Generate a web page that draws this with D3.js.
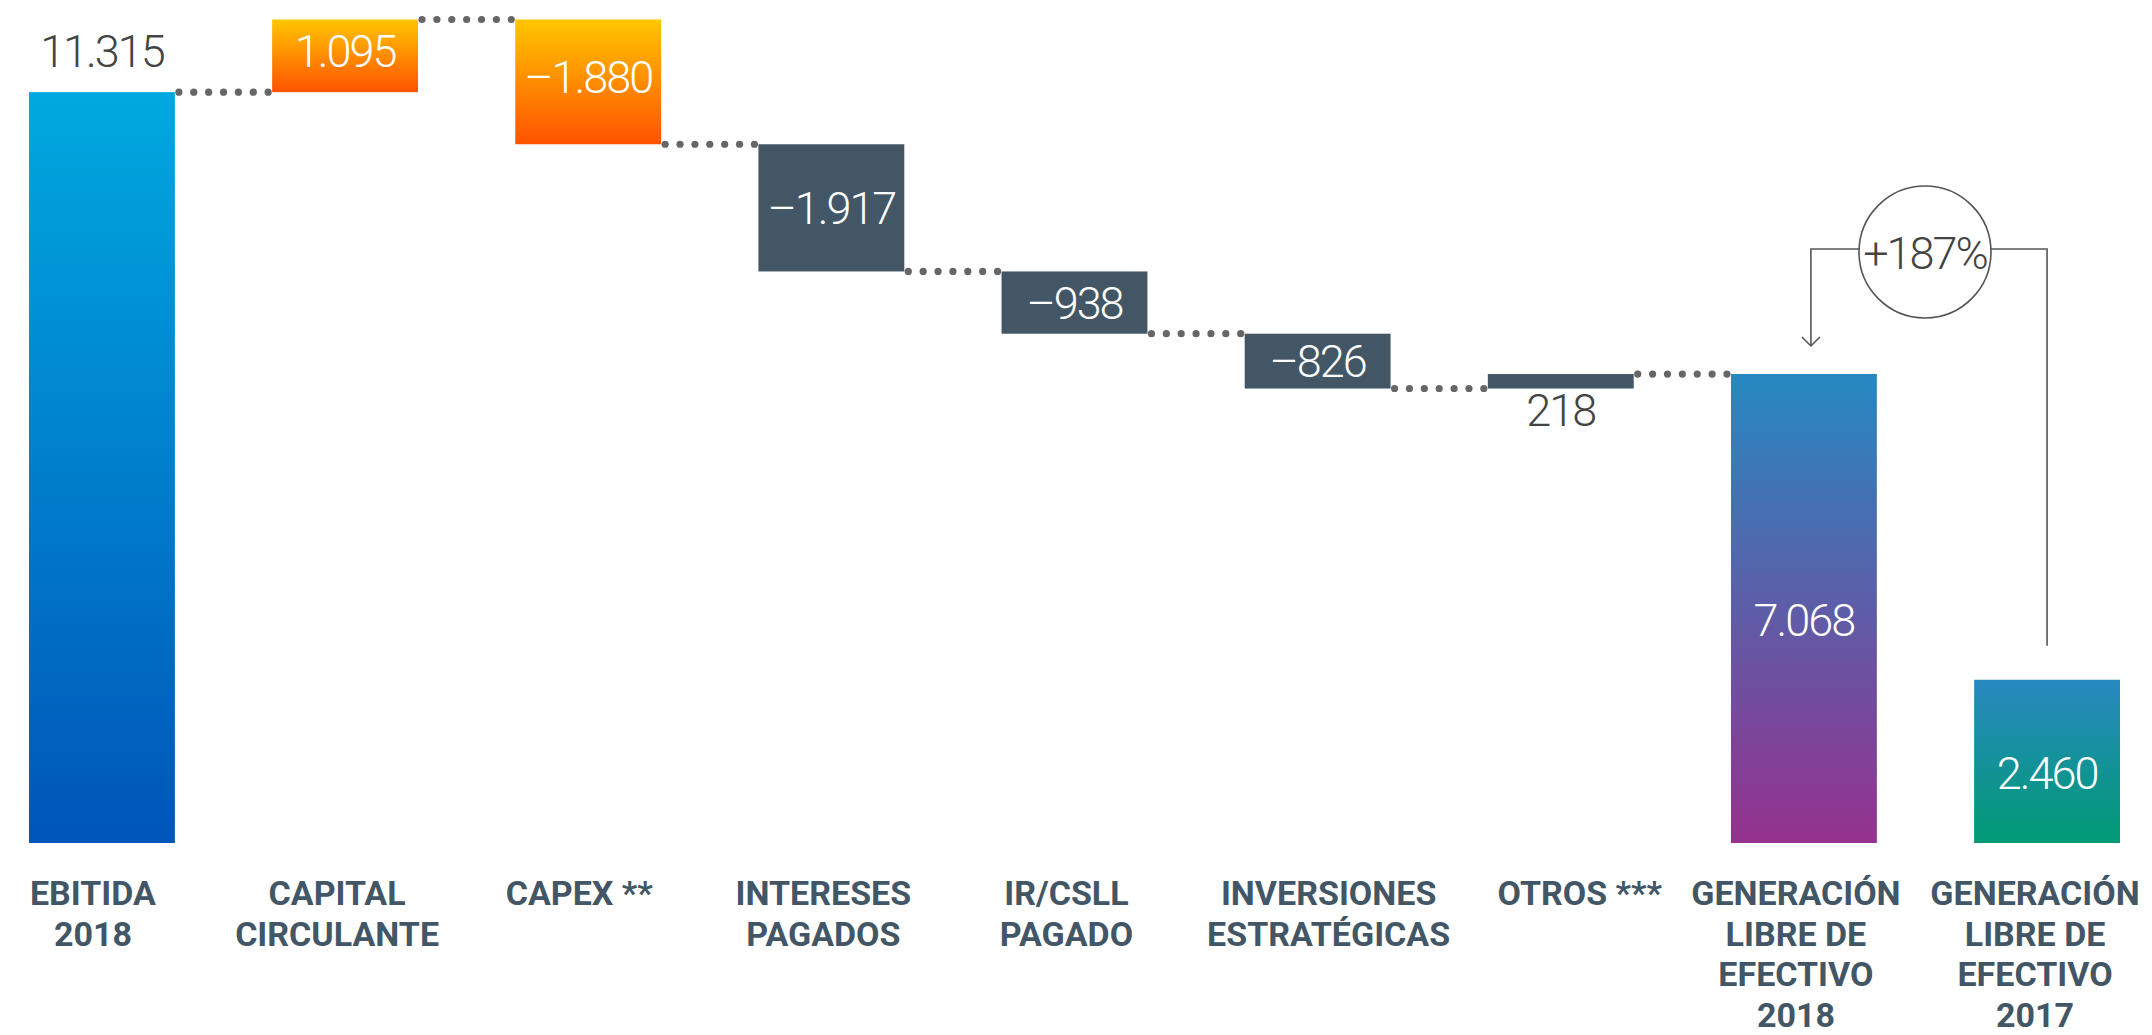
<!DOCTYPE html>
<html>
<head>
<meta charset="utf-8">
<script src="https://cdn.jsdelivr.net/npm/d3@7"></script>
<style>
  body { margin: 0; background: #fff; }
  .cat { font-family: Roboto, "Open Sans", sans-serif; font-weight: 700; font-size: 34px; fill: #435666; }
  .val { font-family: Roboto, "Open Sans", sans-serif; font-weight: 300; font-size: 45px; letter-spacing: -2px; }
</style>
</head>
<body>
<div id="chart"></div>
<script>

// categories (one entry per line of the axis label)
var categories = [
	["EBITIDA", "2018"],
	["CAPITAL", "CIRCULANTE"],
	["CAPEX **"],
	["INTERESES", "PAGADOS"],
	["IR/CSLL", "PAGADO"],
	["INVERSIONES", "ESTRATÉGICAS"],
	["OTROS ***"],
	["GENERACIÓN", "LIBRE DE", "EFECTIVO", "2018"],
	["GENERACIÓN", "LIBRE DE", "EFECTIVO", "2017"]
];

// values (millions), totals and deltas
var values = [11315, 1095, -1880, -1917, -938, -826, 218, 7068, 2460];
var barType = ["total", "delta", "delta", "delta", "delta", "delta", "delta", "total", "total"];
var fillKey = ["ebitda", "orange", "orange", "slate", "slate", "slate", "slate", "gen2018", "gen2017"];
var labelPlace = ["above", "inside", "inside", "inside", "inside", "inside", "below", "inside", "inside"];

// growth 2017 -> 2018
var growthLabel = "+187%";

var width = 2152, height = 1035;
var baseline = 843;

// axis labels are not quite centred under the bars in the original
var labelShift = [-9, -8, -9, -8, -8, 11, 19, -8, -12];

// number format: 11.315 / –1.880
var locale = d3.formatLocale({decimal: ",", thousands: ".", grouping: [3], currency: ["", ""], minus: "\u2013"});
var fmt = locale.format(",d");

// start / end of each bar
var bars = [];
var running = 0;
values.forEach(function(v, i) {
	var start, end;
	if (barType[i] == "total") {
		start = 0; end = v;
		if (i == 0) running = v;
	} else {
		start = running; end = running + v;
		running = end;
	}
	bars.push({i: i, start: start, end: end, value: v});
});

var svg = d3.select("#chart").append("svg")
	.attr("width", width)
	.attr("height", height);

svg.append("rect").attr("width", width).attr("height", height).attr("fill", "#fff");

var xScale = d3.scaleBand()
	.domain(d3.range(categories.length))
	.range([29, 2120])
	.paddingInner(0.4)
	.paddingOuter(0);

var yScale = d3.scaleLinear()
	.domain([0, d3.max(bars, function(d) { return Math.max(d.start, d.end); })])
	.range([baseline, 19.5]);

// gradients
var gradients = {
	ebitda: ["#00a9e0", "#0055b8"],
	orange: ["#ffc600", "#ff5200"],
	gen2018: ["#2689c1", "#95318e"],
	gen2017: ["#2889c0", "#009a74"]
};
var defs = svg.append("defs");
Object.keys(gradients).forEach(function(k) {
	var g = defs.append("linearGradient")
		.attr("id", "grad-" + k)
		.attr("x1", 0).attr("y1", 0).attr("x2", 0).attr("y2", 1);
	g.append("stop").attr("offset", "0%").attr("stop-color", gradients[k][0]);
	g.append("stop").attr("offset", "100%").attr("stop-color", gradients[k][1]);
});

function fillFor(i) {
	if (fillKey[i] == "slate") return "#435666";
	return "url(#grad-" + fillKey[i] + ")";
}

// connectors (dotted) between consecutive bars up to GENERACIÓN 2018
var dotColor = "#666";
for (var i = 0; i < 7; i++) {
	var x0 = xScale(i) + xScale.bandwidth();
	var x1 = xScale(i + 1);
	var yy = yScale(bars[i].end);
	var n = 7;
	svg.append("g").selectAll("circle")
		.data(d3.range(n))
		.enter().append("circle")
		.attr("cx", function(k) { return x0 + 4 + k * (x1 - x0 - 8) / (n - 1); })
		.attr("cy", yy)
		.attr("r", 3.6)
		.attr("fill", dotColor);
}

// bars
svg.selectAll(".bar")
	.data(bars)
	.enter().append("rect")
	.attr("class", "bar")
	.attr("x", function(d) { return xScale(d.i); })
	.attr("width", xScale.bandwidth())
	.attr("y", function(d) { return yScale(Math.max(d.start, d.end)); })
	.attr("height", function(d) { return Math.abs(yScale(d.start) - yScale(d.end)); })
	.attr("fill", function(d) { return fillFor(d.i); });

// value labels
svg.selectAll(".val")
	.data(bars)
	.enter().append("text")
	.attr("class", "val")
	.attr("text-anchor", "middle")
	.attr("x", function(d) { return xScale(d.i) + xScale.bandwidth() / 2; })
	.attr("y", function(d) {
		var top = yScale(Math.max(d.start, d.end));
		var bot = yScale(Math.min(d.start, d.end));
		if (labelPlace[d.i] == "above") return top - 25;
		if (labelPlace[d.i] == "below") return bot + 37;
		var mid = (top + bot) / 2 + 16;
		if (barType[d.i] == "total") mid += 12;
		if (fillKey[d.i] == "orange") mid -= 5;
		return mid;
	})
	.attr("fill", function(d) { return labelPlace[d.i] == "inside" ? "#fff" : "#444"; })
	.text(function(d) { return fmt(d.value); });

// category labels
var cat = svg.selectAll(".cat")
	.data(categories)
	.enter().append("text")
	.attr("class", "cat")
	.attr("text-anchor", "middle")
	.attr("x", function(d, i) { return xScale(i) + xScale.bandwidth() / 2 + labelShift[i]; })
	.attr("y", 905);

cat.selectAll("tspan")
	.data(function(d) { return d; })
	.enter().append("tspan")
	.attr("x", function() { return d3.select(this.parentNode).attr("x"); })
	.attr("dy", function(d, j) { return j == 0 ? 0 : 40.7; })
	.text(function(d) { return d; });

// growth annotation between the two GENERACIÓN bars
var cA = xScale(7) + xScale.bandwidth() / 2 + 7;
var cB = xScale(8) + xScale.bandwidth() / 2;
var circX = (cA + cB) / 2 - 4, circY = 252, circR = 66;
var lineY = 249;
var arrowTip = yScale(values[7]) - 28;
var rightEnd = yScale(values[8]) - 34;
var ann = svg.append("g").attr("fill", "none").attr("stroke", "#555").attr("stroke-width", 1.6);

ann.append("path")
	.attr("d", "M" + (circX - Math.sqrt(circR * circR - 9)) + "," + lineY + "H" + cA + "V" + arrowTip);
ann.append("path")
	.attr("d", "M" + (cA - 9) + "," + (arrowTip - 9) + "L" + cA + "," + arrowTip + "L" + (cA + 9) + "," + (arrowTip - 9));
ann.append("path")
	.attr("d", "M" + (circX + Math.sqrt(circR * circR - 9)) + "," + lineY + "H" + cB + "V" + rightEnd);
ann.append("circle")
	.attr("cx", circX).attr("cy", circY).attr("r", circR)
	.attr("fill", "#fff");

svg.append("text")
	.attr("class", "val")
	.attr("x", circX)
	.attr("y", circY + 17)
	.attr("text-anchor", "middle")
	.attr("fill", "#444")
	.text(growthLabel);

</script>
</body>
</html>
